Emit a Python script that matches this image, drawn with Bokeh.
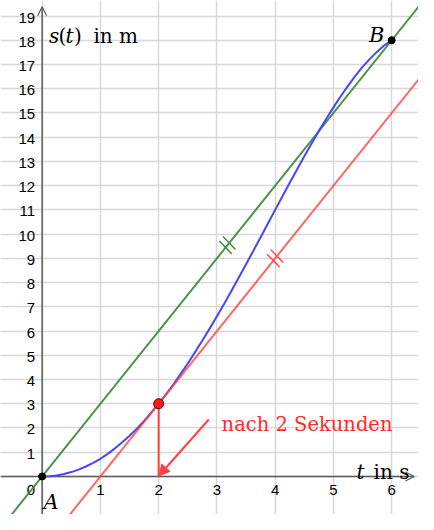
import numpy as np
from bokeh.plotting import figure
from bokeh.models import Range1d, FixedTicker, Arrow, OpenHead, NormalHead, Grid
from bokeh.core.properties import value
from bokeh.embed import file_html
from bokeh.resources import INLINE

# ---- data ----
t_vals = [0, 0.125, 0.25, 0.375, 0.5, 0.625, 0.75, 0.875, 1, 1.125, 1.25, 1.375, 1.5,
          1.625, 1.75, 1.875, 2, 2.125, 2.25, 2.375, 2.5, 2.625, 2.75, 2.875, 3,
          3.125, 3.25, 3.375, 3.5, 3.625, 3.75, 3.875, 4, 4.125, 4.25, 4.375, 4.5,
          4.625, 4.75, 4.875, 5, 5.125, 5.25, 5.375, 5.5, 5.625, 5.75, 5.875, 6]
s_vals = [0, 0.01, 0.04, 0.10, 0.18, 0.28, 0.41, 0.56, 0.73, 0.93, 1.16, 1.41, 1.68,
          1.97, 2.29, 2.64, 3.0, 3.39, 3.79, 4.22, 4.66, 5.13, 5.61, 6.10, 6.61,
          7.13, 7.66, 8.21, 8.76, 9.31, 9.87, 10.44, 11.0, 11.56, 12.12, 12.67, 13.21,
          13.74, 14.26, 14.75, 15.23, 15.69, 16.12, 16.53, 16.90, 17.23, 17.53, 17.79, 18.0]
point_A = [0, 0]
point_B = [6, 18]
tangent_point = [2, 3]
tangent_slope = 3
mark_green = [3.18, 9.54]
mark_red = [4.0, 9.0]
arrow_tail = [2.86, 2.35]
arrow_tip = [2.0, 0.02]
x_ticks = [1, 2, 3, 4, 5, 6]
y_ticks = list(range(1, 20))

X_MIN, X_MAX = -0.715, 6.46
Y_MIN, Y_MAX = -1.57, 19.64
W, H = 418, 514

BLUE = "#4646ff"
GREEN = "#3a873a"
RED = "#ff4040"
AXIS = "#5a5a5a"
SERIF = value("DejaVu Serif")
SANS = value("Liberation Sans")

p = figure(width=W, height=H, x_range=Range1d(X_MIN, X_MAX), y_range=Range1d(Y_MIN, Y_MAX),
           output_backend="svg", toolbar_location=None, min_border=0,
           x_axis_location=None, y_axis_location=None)
p.outline_line_color = None
p.background_fill_color = "white"
p.border_fill_color = "white"
for g in list(p.grid):
    g.visible = False
p.add_layout(Grid(dimension=0, ticker=FixedTicker(ticks=list(range(0, 7))),
                  grid_line_color="#d8d8d8", grid_line_width=1.5))
p.add_layout(Grid(dimension=1, ticker=FixedTicker(ticks=list(range(0, 20))),
                  grid_line_color="#d8d8d8", grid_line_width=1.5))

# axes with arrows
p.add_layout(Arrow(end=OpenHead(size=9, line_color=AXIS, line_width=1.2), x_start=X_MIN, y_start=0,
                   x_end=6.39, y_end=0, line_color=AXIS, line_width=1.5, level="underlay"))
p.add_layout(Arrow(end=OpenHead(size=9, line_color=AXIS, line_width=1.2), x_start=0, y_start=Y_MIN,
                   x_end=0, y_end=19.38, line_color=AXIS, line_width=1.5, level="underlay"))

# tick labels
p.text(x=x_ticks, y=[-0.36] * len(x_ticks), text=[str(v) for v in x_ticks], text_font=SANS,
       text_font_size="15px", text_align="center", text_baseline="top", text_color="black")
p.text(x=[-0.12], y=[-0.36], text=["0"], text_font=SANS, text_font_size="15px",
       text_align="right", text_baseline="top", text_color="black")
p.text(x=[-0.12] * len(y_ticks), y=y_ticks, text=[str(v) for v in y_ticks], text_font=SANS,
       text_font_size="15px", text_align="right", text_baseline="middle", y_offset=1.5,
       text_color="black")

# secant (green) through A and B
sec_slope = (point_B[1] - point_A[1]) / (point_B[0] - point_A[0])
p.line([X_MIN, X_MAX], [point_A[1] + sec_slope * (X_MIN - point_A[0]), point_A[1] + sec_slope * (X_MAX - point_A[0])],
       line_color=GREEN, line_width=2, line_alpha=0.9)
# curve
p.line(t_vals, s_vals, line_color=BLUE, line_width=2)
# tangent (red)
p.line([X_MIN, X_MAX], [tangent_point[1] + tangent_slope * (X_MIN - tangent_point[0]),
                        tangent_point[1] + tangent_slope * (X_MAX - tangent_point[0])],
       line_color=RED, line_width=2, line_alpha=0.8)
p.segment(x0=[tangent_point[0]], y0=[tangent_point[1]], x1=[tangent_point[0]], y1=[0],
          line_color=RED, line_width=2)

# parallel marks
sx = W / (X_MAX - X_MIN)
sy = H / (Y_MAX - Y_MIN)
def marks(c, slope, color):
    vx, vy = sx * 1.0, sy * slope
    n = np.hypot(vx, vy)
    ux, uy = vx / n, vy / n
    d = 2.9
    xs = [c[0] - d * ux / sx, c[0] + d * ux / sx]
    ys = [c[1] - d * uy / sy, c[1] + d * uy / sy]
    p.scatter(xs, ys, marker="dash", size=18, angle=-0.8, line_color=color, line_width=1.4)
marks(mark_green, sec_slope, GREEN)
marks(mark_red, tangent_slope, RED)

# arrow to t=2
p.add_layout(Arrow(end=NormalHead(size=11, fill_color=RED, line_color=RED, line_width=1),
                   x_start=arrow_tail[0], y_start=arrow_tail[1], x_end=arrow_tip[0], y_end=arrow_tip[1],
                   line_color=RED, line_width=2))

# points
p.scatter([point_A[0], point_B[0]], [point_A[1], point_B[1]], size=7, fill_color="black", line_color="black")
p.scatter([tangent_point[0]], [tangent_point[1]], size=10, fill_color="#ff1a1a", line_color="#550000", line_width=1)

# labels
p.text(x=[3.08], y=[2.16], text=["nach 2 Sekunden"], text_font=SERIF, text_font_size="19.5px",
       text_color="#ff2a2a", text_baseline="alphabetic")
p.text(x=[0.025], y=[-1.05], text=["A"], text_font=SERIF, text_font_style="italic",
       text_font_size="21px", text_baseline="alphabetic", text_color="black")
p.text(x=[5.61], y=[18.23], text=["B"], text_font=SERIF, text_font_style="italic",
       text_font_size="21px", text_baseline="alphabetic", text_color="black")

# s(t) in m
lx, ly = 0.107, 18.16
for txt, off, style in [("s", 0.5, "italic"), ("(", 10, "normal"), ("t", 17, "italic"),
                        (")", 25.5, "normal"), ("in m", 45, "normal")]:
    p.text(x=[lx], y=[ly], text=[txt], x_offset=off, text_font=SERIF, text_font_style=style,
           text_font_size="20px", text_baseline="alphabetic", text_color="black")
# t in s
tx, ty = 5.397, 0.19
for txt, off, style in [("t", 0, "italic"), ("in s", 17, "normal")]:
    p.text(x=[tx], y=[ty], text=[txt], x_offset=off, text_font=SERIF, text_font_style=style,
           text_font_size="20px", text_baseline="alphabetic", text_color="black")

open("out.html", "w").write(file_html(p, INLINE))
